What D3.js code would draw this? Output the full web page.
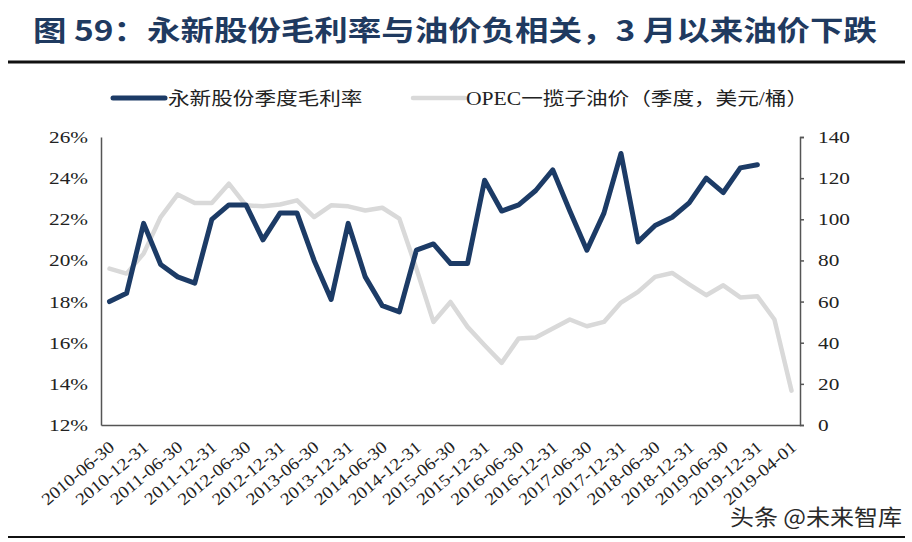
<!DOCTYPE html>
<html>
<head>
<meta charset="utf-8">
<script src="https://cdn.jsdelivr.net/npm/d3@7"></script>
<style>
  body { margin: 0; background: #fff; }
  text { font-family: "Liberation Serif", "Noto Sans CJK SC", serif; }
</style>
</head>
<body>
<div id="chart"></div>
<script>
//*********************** DATA ***********************
var quarters = ["2010-06-30","2010-09-30","2010-12-31","2011-03-31","2011-06-30","2011-09-30","2011-12-31",
  "2012-03-31","2012-06-30","2012-09-30","2012-12-31","2013-03-31","2013-06-30","2013-09-30","2013-12-31",
  "2014-03-31","2014-06-30","2014-09-30","2014-12-31","2015-03-31","2015-06-30","2015-09-30","2015-12-31",
  "2016-03-31","2016-06-30","2016-09-30","2016-12-31","2017-03-31","2017-06-30","2017-09-30","2017-12-31",
  "2018-03-31","2018-06-30","2018-09-30","2018-12-31","2019-03-31","2019-06-30","2019-09-30","2019-12-31",
  "2020-03-31","2019-04-01"];

// 永新股份季度毛利率 (%)
var grossMargin = [18.0, 18.4, 21.8, 19.8, 19.2, 18.9, 22.0, 22.7, 22.7, 21.0, 22.3, 22.3, 20.0, 18.1, 21.8,
  19.2, 17.8, 17.5, 20.5, 20.8, 19.85, 19.85, 23.9, 22.4, 22.7, 23.4, 24.4, 22.4, 20.5, 22.3, 25.2,
  20.9, 21.7, 22.1, 22.8, 24.0, 23.3, 24.5, 24.65];

// OPEC一揽子油价 (美元/桶)
var opecPrice = [76.0, 73.6, 83.3, 101.1, 112.1, 107.9, 107.9, 117.3, 106.8, 106.3, 107.2, 109.2, 101.1, 106.8, 106.3,
  104.3, 105.6, 100.3, 76.0, 50.1, 59.8, 47.7, 38.8, 30.2, 42.1, 42.5, 46.9, 51.3, 48.0, 50.1, 59.5,
  64.7, 72.0, 73.9, 68.4, 63.1, 67.9, 62.0, 62.6, 51.3, 16.7];

var leftTicks = [12, 14, 16, 18, 20, 22, 24, 26],
    rightTicks = [0, 20, 40, 60, 80, 100, 120, 140];

//*********************** DECLARE VARIABLES ***********************
var width = 912,
    height = 542,
    margin = {top: 137, bottom: 117, left: 101, right: 112},
    navy = "#1c3b66",
    grey = "#d9d9d9",
    axisColor = "#555";

var xScale = d3.scalePoint().domain(quarters).range([margin.left, width - margin.right]).padding(0.5),
    yLeft = d3.scaleLinear().domain([12, 26]).range([height - margin.bottom, margin.top]),
    yRight = d3.scaleLinear().domain([0, 140]).range([height - margin.bottom, margin.top]);

var svg = d3.select("#chart").append("svg")
    .attr("width", width)
    .attr("height", height);

// stretch text horizontally, the source picture is a bit wide
function stretch(sel, k) {
  sel.each(function() {
    var len = this.getComputedTextLength();
    d3.select(this).attr("textLength", len * k).attr("lengthAdjust", "spacingAndGlyphs");
  });
}

//*********************** TITLE ***********************
svg.append("text")
    .attr("x", 33)
    .attr("y", 41)
    .attr("fill", "#1f3a60")
    .style("font-family", "'Noto Sans CJK SC', sans-serif")
    .style("font-weight", "bold")
    .style("font-size", "28px")
    .attr("textLength", 844)
    .attr("lengthAdjust", "spacingAndGlyphs")
    .text("图 59：永新股份毛利率与油价负相关，3 月以来油价下跌");

svg.append("line")
    .attr("x1", 8).attr("x2", 905)
    .attr("y1", 62).attr("y2", 62)
    .attr("stroke", "#111").attr("stroke-width", 3);

svg.append("line")
    .attr("x1", 8).attr("x2", 905)
    .attr("y1", 537).attr("y2", 537)
    .attr("stroke", "#111").attr("stroke-width", 2);

//*********************** LEGEND ***********************
var legend = svg.append("g").attr("class", "legend");

legend.append("line")
    .attr("x1", 113).attr("x2", 165).attr("y1", 98).attr("y2", 98)
    .attr("stroke", navy).attr("stroke-width", 5).attr("stroke-linecap", "round");

legend.append("text")
    .attr("x", 168).attr("y", 104.5)
    .style("font-size", "18px").attr("fill", "#222")
    .text("永新股份季度毛利率")
    .call(stretch, 1.2);

legend.append("line")
    .attr("x1", 413).attr("x2", 465).attr("y1", 98).attr("y2", 98)
    .attr("stroke", grey).attr("stroke-width", 4.5).attr("stroke-linecap", "round");

legend.append("text")
    .attr("x", 466).attr("y", 104.5)
    .style("font-size", "18px").attr("fill", "#222")
    .text("OPEC一揽子油价（季度，美元/桶）")
    .call(stretch, 1.2);

//*********************** AXES ***********************
var yAxisL = d3.axisLeft(yLeft).tickValues(leftTicks).tickSize(0).tickPadding(13)
      .tickFormat(function(d) { return d + "%"; }),
    yAxisR = d3.axisRight(yRight).tickValues(rightTicks).tickSize(4).tickPadding(14),
    xAxis = d3.axisBottom(xScale).tickSize(0).tickFormat("");

var gL = svg.append("g")
    .attr("class", "y axis")
    .attr("transform", "translate(" + margin.left + ",0)")
    .call(yAxisL);

var gR = svg.append("g")
    .attr("class", "y axis")
    .attr("transform", "translate(" + (width - margin.right) + ",0)")
    .call(yAxisR);

var gX = svg.append("g")
    .attr("class", "x axis")
    .attr("transform", "translate(0," + (height - margin.bottom) + ")")
    .call(xAxis);

svg.selectAll(".axis path.domain").attr("stroke", axisColor).attr("stroke-width", 1.5);
svg.selectAll(".axis .tick line").attr("stroke", axisColor).attr("stroke-width", 1.5);
svg.selectAll(".y.axis .tick text")
    .attr("fill", "#222")
    .style("font-size", "17px")
    .style("font-family", "'Liberation Serif', serif")
    .call(stretch, 1.25);

// x labels every second quarter, rotated
svg.append("g")
    .attr("class", "xlabels")
    .selectAll("text")
    .data(quarters.filter(function(d, i) { return i % 2 === 0; }))
    .enter()
    .append("text")
    .attr("transform", function(d) {
      return "translate(" + (xScale(d) + 6) + "," + (height - margin.bottom + 24) + ") rotate(-40)";
    })
    .attr("text-anchor", "end")
    .attr("fill", "#222")
    .style("font-size", "17px")
    .text(function(d) { return d; })
    .call(stretch, 1.12);

//*********************** LINES ***********************
var oilLine = d3.line()
    .x(function(d, i) { return xScale(quarters[i]); })
    .y(function(d) { return yRight(d); });

var marginLine = d3.line()
    .x(function(d, i) { return xScale(quarters[i]); })
    .y(function(d) { return yLeft(d); });

svg.append("path").datum(opecPrice)
    .attr("d", oilLine)
    .attr("fill", "none")
    .attr("stroke", grey)
    .attr("stroke-width", 4.5)
    .attr("stroke-linejoin", "round")
    .attr("stroke-linecap", "round");

svg.append("path").datum(grossMargin)
    .attr("d", marginLine)
    .attr("fill", "none")
    .attr("stroke", navy)
    .attr("stroke-width", 5)
    .attr("stroke-linejoin", "round")
    .attr("stroke-linecap", "round");

//*********************** WATERMARK ***********************
svg.append("text")
    .attr("x", 730)
    .attr("y", 525)
    .attr("fill", "#2a2a2a")
    .attr("stroke", "#fff")
    .attr("stroke-width", 2)
    .attr("paint-order", "stroke")
    .style("font-family", "'Noto Sans CJK SC', sans-serif")
    .style("font-size", "22px")
    .attr("textLength", 172)
    .attr("lengthAdjust", "spacingAndGlyphs")
    .text("头条 @未来智库");
</script>
</body>
</html>
